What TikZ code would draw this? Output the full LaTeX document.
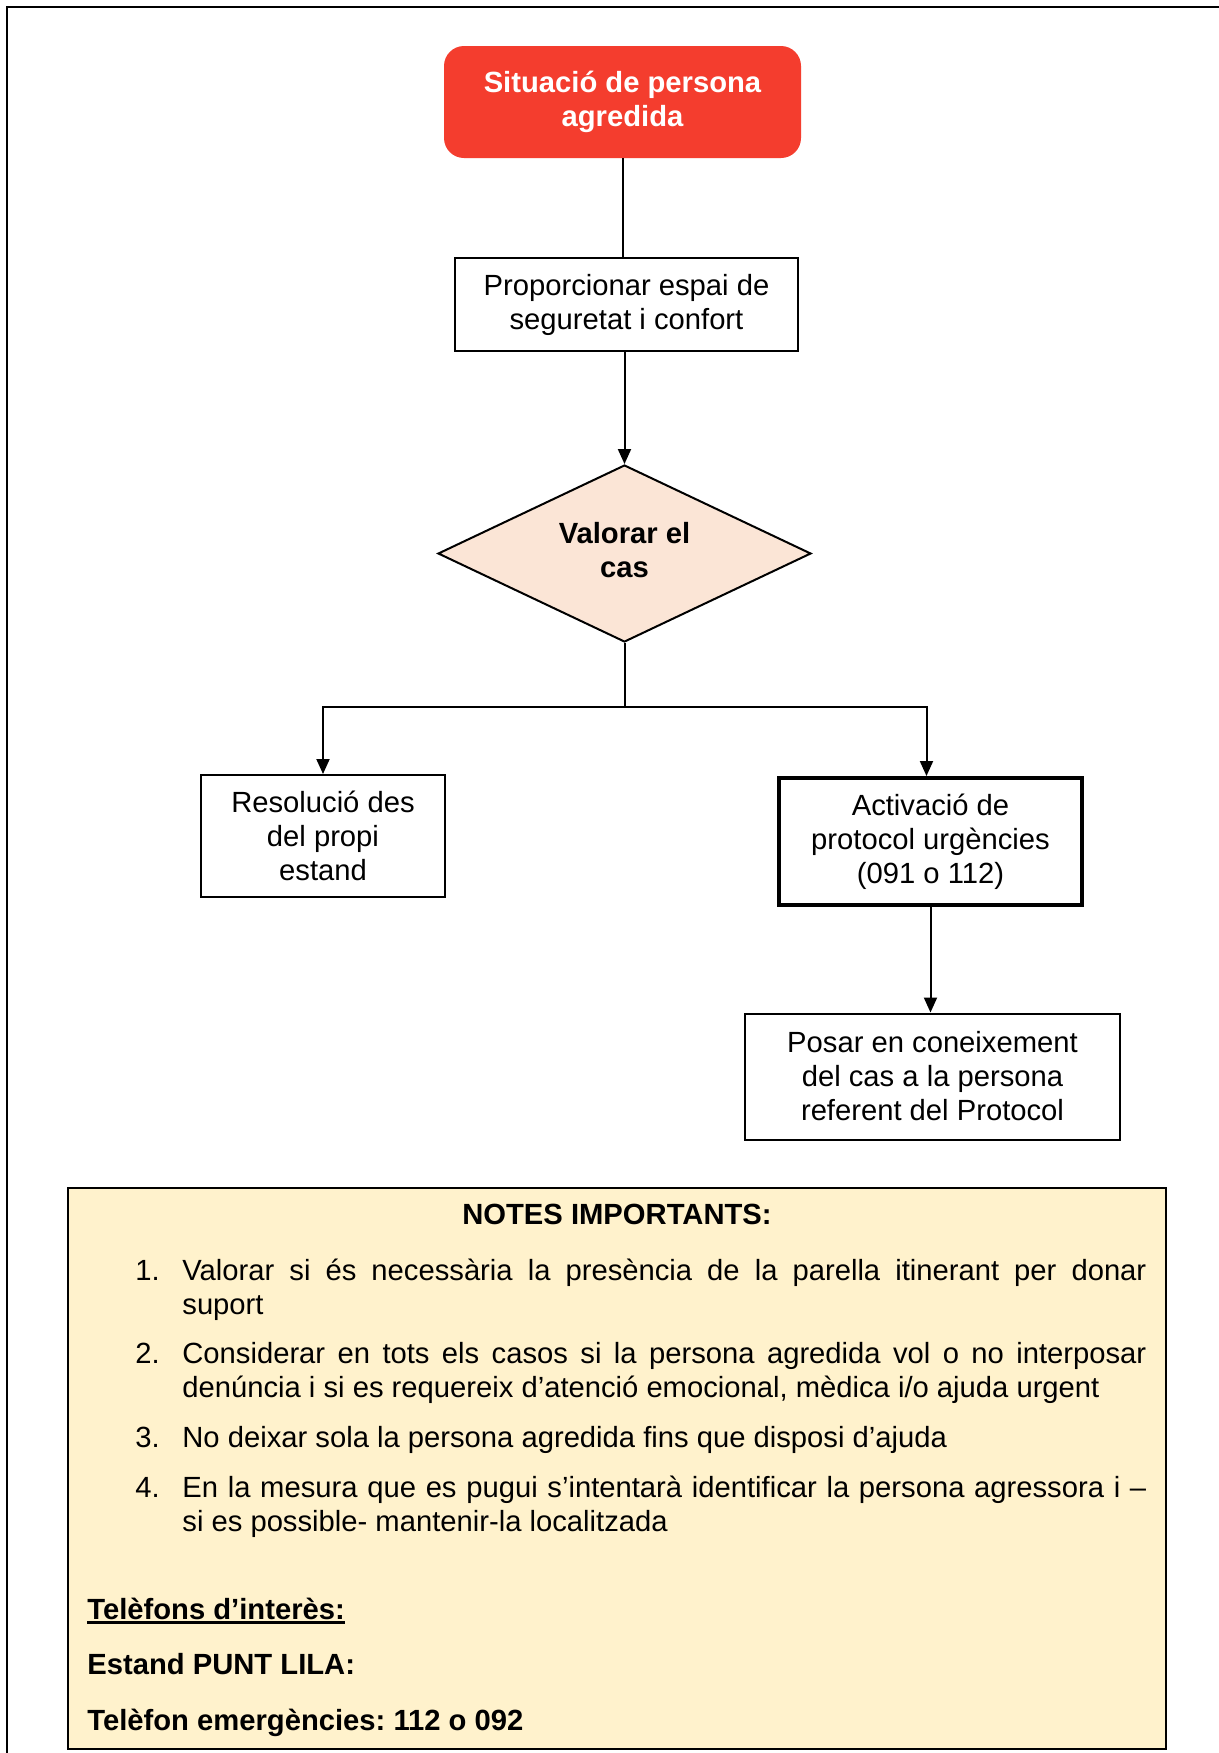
\documentclass[tikz,border=0pt]{standalone}
\usepackage{fontspec}
\setmainfont{Liberation Sans}
\usetikzlibrary{shapes.geometric,arrows.meta}
\definecolor{redbox}{RGB}{244,61,46}
\definecolor{peach}{RGB}{251,229,214}
\definecolor{notefill}{RGB}{255,242,204}
\newcommand\basefont{\fontsize{14.6}{17}\selectfont\frenchspacing}
\frenchspacing
\begin{document}
\begin{tikzpicture}[x=0.5pt,y=-0.5pt,
  every node/.style={font=\basefont, inner sep=0pt},
  box/.style={draw, line width=1pt, fill=white, align=center},
  arr/.style={-{Triangle[length=7.5pt,width=6.5pt]}, line width=1pt},
  conn/.style={line width=1pt},
  boldtxt/.style={font=\basefont\bfseries}]
\useasboundingbox (0,0) rectangle (1219,1753);
\fill[white] (0,0) rectangle (1219,1753);
\draw[line width=1pt] (7,1753) -- (7,7) -- (1219,7);

% flowchart nodes
\node[fill=redbox, rounded corners=10pt, minimum width=178.5pt, minimum height=56pt,
      text=white, align=center, boldtxt] (start) at (622.5,102) {Situació de persona\\agredida};
\node[box, minimum width=171.5pt, minimum height=46.5pt] (space) at (626.5,304.5)
      {Proporcionar espai de\\seguretat i confort};
\node[diamond, aspect=2.1, draw, line width=1pt, fill=peach, minimum width=186.5pt,
      minimum height=88.5pt, align=center, boldtxt] (dec) at (624.5,553.5)
      {Valorar el\\cas\rule[-4pt]{0pt}{4pt}};
\node[box, minimum width=122pt, minimum height=61pt] (res) at (323,836)
      {Resolució des\\del propi\\estand};
\node[box, line width=2pt, minimum width=151.5pt, minimum height=63.5pt] (act) at (930.5,841.5)
      {Activació de\\protocol urgències\\(091 o 112)};
\node[box, minimum width=187.5pt, minimum height=63pt] (post) at (932.5,1076.5)
      {Posar en coneixement\\del cas a la persona\\referent del Protocol};

% connectors
\draw[conn] (start.south) -- (start.south |- space.north);
\draw[arr] (space.south -| dec.north) -- (dec.north);
\coordinate (split) at (624.5,707);
\draw[conn] (dec.south) -- (split);
\draw[arr] (split) -| (res.north);
\draw[arr] (split) -| ([xshift=-2pt]act.north);
\draw[arr] (act.south) -- (act.south |- post.north);

% notes
\node[draw, line width=1pt, fill=notefill, minimum width=549pt, minimum height=280.5pt] (notes) at (617,1468.5) {};
\node[boldtxt, anchor=base] (ntitle) at (617,1224) {NOTES IMPORTANTS:};

\node[anchor=base west] (n1) at (135,1280) {1.};
\node[anchor=base west] (l1a) at (182,1280) {\makebox[482pt][s]{Valorar si és necessària la presència de la parella itinerant per donar}};
\node[anchor=base west] (l1b) at (182,1314) {suport};

\node[anchor=base west] (n2) at (135,1363) {2.};
\node[anchor=base west] (l2a) at (182,1363) {\makebox[482pt][s]{Considerar en tots els casos si la persona agredida vol o no interposar}};
\node[anchor=base west] (l2b) at (182,1397) {denúncia i si es requereix d’atenció emocional, mèdica i/o ajuda urgent};

\node[anchor=base west] (n3) at (135,1447) {3.};
\node[anchor=base west] (l3a) at (182,1447) {No deixar sola la persona agredida fins que disposi d’ajuda};

\node[anchor=base west] (n4) at (135,1497) {4.};
\node[anchor=base west] (l4a) at (182,1497) {\makebox[482pt][s]{En la mesura que es pugui s’intentarà identificar la persona agressora i –}};
\node[anchor=base west] (l4b) at (182,1531) {si es possible- mantenir-la localitzada};

\node[boldtxt, anchor=base west] (tel) at (87,1619) {Telèfons d’interès:};
\draw[line width=1.4pt] ([yshift=-1.8pt]tel.base west) -- ([yshift=-1.8pt]tel.base east);
\node[boldtxt, anchor=base west] (est) at (87,1674) {Estand PUNT LILA:};
\node[boldtxt, anchor=base west] (emer) at (87,1730) {Telèfon emergències: 112 o 092};
\end{tikzpicture}
\end{document}
